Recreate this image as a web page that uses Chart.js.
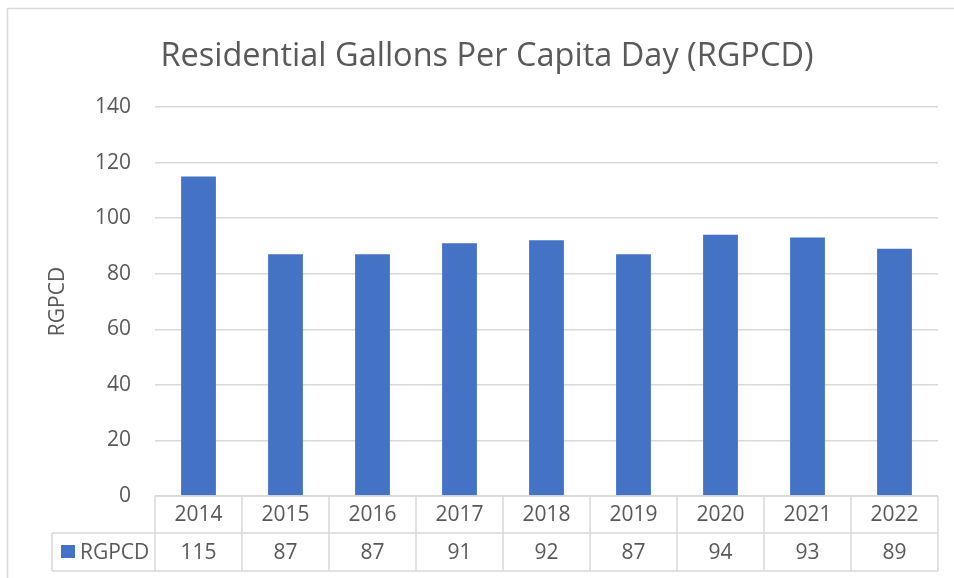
<!DOCTYPE html>
<html>
<head>
<meta charset="utf-8">
<script src="https://cdn.jsdelivr.net/npm/chart.js@4/dist/chart.umd.min.js"></script>
<style>
  html, body { margin: 0; padding: 0; background: #fff; }
  #wrap { position: relative; width: 954px; height: 578px; }
</style>
</head>
<body>
<div id="wrap"><canvas id="rgpcdChart" width="954" height="578"></canvas></div>
<script>
// data
const years = ['2014', '2015', '2016', '2017', '2018', '2019', '2020', '2021', '2022'];
const rgpcd = [115, 87, 87, 91, 92, 87, 94, 93, 89];
const seriesName = 'RGPCD';
const chartTitle = 'Residential Gallons Per Capita Day (RGPCD)';

const FONT = '"Open Sans", "Noto Sans", sans-serif';
const TEXT = '#595959';
const LINE = '#d9d9d9';
const BAR = '#4472C4';

// outer frame + data table under the plot
const dataTable = {
  id: 'dataTable',
  beforeDraw(chart) {
    const c = chart.ctx;
    c.save();
    c.strokeStyle = LINE;
    c.lineWidth = 1.5;
    c.strokeRect(7.5, 8.5, 980, 600);
    c.restore();
  },
  afterDraw(chart) {
    const c = chart.ctx;
    const area = chart.chartArea;
    const x = chart.scales.x;
    const top = area.bottom;
    const mid = top + 37;
    const bot = top + 75;
    const legLeft = 52;
    const colW = (area.right - area.left) / years.length;

    c.save();
    c.strokeStyle = LINE;
    c.lineWidth = 1.5;
    c.beginPath();
    // horizontal lines
    c.moveTo(area.left, top); c.lineTo(area.right, top);
    c.moveTo(legLeft, mid); c.lineTo(area.right, mid);
    c.moveTo(legLeft, bot); c.lineTo(area.right, bot);
    // vertical lines
    c.moveTo(legLeft, mid); c.lineTo(legLeft, bot);
    for (let i = 0; i <= years.length; i++) {
      const px = area.left + i * colW;
      c.moveTo(px, top); c.lineTo(px, bot);
    }
    c.stroke();

    c.fillStyle = TEXT;
    c.font = '21px ' + FONT;
    c.textAlign = 'center';
    c.textBaseline = 'middle';
    years.forEach((y, i) => {
      const px = x.getPixelForValue(i);
      c.fillText(y, px, (top + mid) / 2 + 1);
      c.fillText(String(rgpcd[i]), px, (mid + bot) / 2 + 1);
    });

    // legend key
    c.fillStyle = BAR;
    c.fillRect(61, (mid + bot) / 2 - 7, 14, 13);
    c.fillStyle = TEXT;
    c.textAlign = 'left';
    c.fillText(seriesName, 80, (mid + bot) / 2 + 1);
    c.restore();
  }
};

new Chart(document.getElementById('rgpcdChart'), {
  type: 'bar',
  data: {
    labels: years,
    datasets: [{
      label: seriesName,
      data: rgpcd,
      backgroundColor: BAR,
      borderWidth: 0,
      barPercentage: 0.4,
      categoryPercentage: 1
    }]
  },
  options: {
    responsive: false,
    animation: false,
    layout: { padding: { left: 36, right: 16, top: 0, bottom: 82 } },
    plugins: {
      legend: { display: false },
      tooltip: { enabled: false },
      title: {
        display: true,
        text: chartTitle,
        color: TEXT,
        font: { family: FONT, size: 32.5, weight: 'normal' },
        padding: { top: 37, bottom: 31 }
      }
    },
    scales: {
      x: {
        display: false
      },
      y: {
        min: 0,
        max: 140,
        afterFit(scale) { scale.width = 119; },
        border: { display: false },
        grid: { color: LINE, lineWidth: 1.5, drawTicks: false },
        ticks: {
          stepSize: 20,
          padding: 24,
          color: TEXT,
          font: { family: FONT, size: 21 }
        },
        title: {
          display: true,
          text: seriesName,
          color: TEXT,
          font: { family: FONT, size: 21 },
          padding: { top: 9, bottom: 0 }
        }
      }
    }
  },
  plugins: [dataTable]
});
</script>
</body>
</html>
